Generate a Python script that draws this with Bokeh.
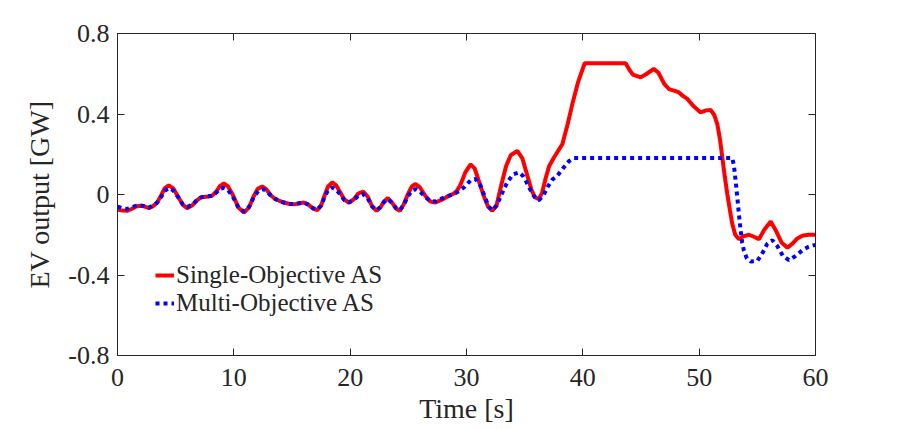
from bokeh.plotting import figure
from bokeh.models import Range1d, LinearAxis, FixedTicker, Legend, LegendItem
from bokeh.embed import file_html
from bokeh.resources import INLINE

# ---- data ----
t_single = [0.0, 0.4, 0.83, 1.2, 1.6, 1.98, 2.35, 2.7, 3.05, 3.41, 3.75, 4.05, 4.41, 4.8, 5.2, 5.6, 5.99,
            6.4, 6.8, 7.1, 7.42, 7.8, 8.14, 8.5, 8.8, 9.14, 9.5, 9.9, 10.4, 10.86, 11.3, 11.7, 12.05,
            12.44, 12.8, 13.2, 13.55, 13.87, 14.3, 14.8, 15.3, 15.65, 16.02, 16.4, 16.8, 17.17, 17.5,
            17.8, 18.1, 18.46, 18.8, 19.15, 19.5, 19.89, 20.3, 20.7, 21.12, 21.5, 21.9, 22.27, 22.6,
            22.9, 23.24, 23.6, 23.95, 24.27, 24.6, 24.95, 25.3, 25.62, 26.0, 26.5, 26.9, 27.34, 27.8,
            28.3, 28.92, 29.2, 29.49, 29.9, 30.35, 30.7, 31.1, 31.5, 31.85, 32.22, 32.6, 33.0, 33.4,
            33.8, 34.37, 34.8, 35.2, 35.6, 35.9, 36.23, 36.5, 36.8, 37.1, 37.52, 38.24, 38.7, 39.1,
            39.6, 40.16, 43.68, 44.0, 44.3, 44.97, 45.5, 46.1, 46.5, 47.0, 47.4, 47.9, 48.26, 48.6,
            48.98, 49.5, 50.13, 50.6, 50.99, 51.3, 51.56, 51.8, 51.99, 52.2, 52.42, 52.65, 52.85,
            53.1, 53.42, 53.8, 54.28, 54.7, 55.14, 55.6, 56.15, 56.6, 57.1, 57.58, 58.0, 58.4,
            58.87, 59.4, 60.0]
y_single = [-0.075, -0.080, -0.081, -0.072, -0.060, -0.056, -0.060, -0.068, -0.058, -0.040, -0.005,
            0.030, 0.045, 0.030, -0.010, -0.050, -0.068, -0.055, -0.030, -0.017, -0.012, -0.010,
            -0.006, 0.015, 0.042, 0.055, 0.040, 0.000, -0.065, -0.090, -0.065, -0.010, 0.028, 0.040,
            0.025, -0.005, -0.022, -0.030, -0.040, -0.047, -0.048, -0.043, -0.040, -0.050, -0.070,
            -0.078, -0.055, -0.005, 0.040, 0.060, 0.045, 0.010, -0.025, -0.040, -0.025, 0.005, 0.015,
            -0.010, -0.060, -0.081, -0.065, -0.035, -0.018, -0.040, -0.070, -0.081, -0.050, 0.000,
            0.040, 0.052, 0.035, -0.010, -0.035, -0.040, -0.028, -0.012, 0.005, 0.020, 0.050, 0.110,
            0.150, 0.130, 0.060, -0.010, -0.060, -0.081, -0.050, 0.050, 0.140, 0.195, 0.217, 0.180,
            0.100, 0.020, -0.015, -0.023, 0.010, 0.080, 0.140, 0.184, 0.250, 0.350, 0.450, 0.560,
            0.652, 0.652, 0.620, 0.596, 0.582, 0.600, 0.624, 0.605, 0.550, 0.524, 0.515, 0.507,
            0.490, 0.475, 0.440, 0.408, 0.418, 0.420, 0.395, 0.350, 0.270, 0.184, 0.090, 0.002,
            -0.080, -0.147, -0.200, -0.222, -0.208, -0.200, -0.210, -0.222, -0.175, -0.134, -0.180,
            -0.240, -0.264, -0.245, -0.220, -0.205, -0.200, -0.200]

t_multi = [0.0, 0.4, 0.83, 1.2, 1.6, 1.98, 2.35, 2.7, 3.05, 3.41, 3.75, 4.05, 4.41, 4.8, 5.2, 5.6, 6.0,
           6.4, 6.8, 7.1, 7.42, 7.8, 8.14, 8.5, 8.8, 9.1, 9.5, 9.9, 10.4, 10.86, 11.3, 11.7, 12.1,
           12.5, 12.8, 13.2, 13.55, 13.87, 14.3, 14.8, 15.3, 15.65, 16.02, 16.4, 16.8, 17.17, 17.5,
           17.8, 18.1, 18.46, 18.8, 19.15, 19.5, 19.89, 20.3, 20.7, 21.12, 21.5, 21.9, 22.27, 22.6,
           22.9, 23.24, 23.6, 23.95, 24.27, 24.6, 24.95, 25.3, 25.62, 26.0, 26.5, 26.9, 27.34, 27.8,
           28.3, 28.92, 29.3, 29.78, 30.35, 30.78, 31.2, 31.6, 31.9, 32.22, 32.6, 33.0, 33.5, 34.0,
           34.51, 34.9, 35.3, 35.7, 36.0, 36.23, 36.6, 37.0, 37.4, 37.8, 38.3, 38.8, 39.23, 52.85,
           52.99, 53.15, 53.28, 53.42, 53.57, 53.7, 53.85, 54.1, 54.43, 55.0, 55.4, 55.85, 56.29,
           56.7, 57.2, 57.72, 58.3, 58.87, 59.4, 60.0]
y_multi = [-0.060, -0.068, -0.072, -0.064, -0.056, -0.054, -0.058, -0.065, -0.055, -0.040, -0.012,
           0.018, 0.032, 0.020, -0.012, -0.048, -0.061, -0.052, -0.030, -0.016, -0.010, -0.009,
           -0.006, 0.010, 0.028, 0.033, 0.022, -0.010, -0.065, -0.085, -0.062, -0.015, 0.018, 0.027,
           0.018, -0.007, -0.022, -0.030, -0.040, -0.046, -0.048, -0.043, -0.040, -0.050, -0.068,
           -0.075, -0.055, -0.012, 0.022, 0.035, 0.025, 0.000, -0.028, -0.040, -0.028, -0.006, 0.002,
           -0.018, -0.060, -0.078, -0.062, -0.038, -0.023, -0.042, -0.068, -0.078, -0.052, -0.010,
           0.018, 0.027, 0.015, -0.015, -0.032, -0.035, -0.022, -0.010, 0.002, 0.015, 0.035, 0.070,
           0.077, 0.045, -0.015, -0.060, -0.078, -0.055, 0.000, 0.060, 0.100, 0.110, 0.090, 0.045,
           0.000, -0.022, -0.028, -0.005, 0.040, 0.075, 0.093, 0.130, 0.165, 0.181, 0.181, 0.143,
           0.060, -0.015, -0.100, -0.181, -0.240, -0.280, -0.318, -0.333, -0.330, -0.295, -0.245,
           -0.227, -0.255, -0.305, -0.326, -0.305, -0.277, -0.260, -0.250]

x_ticks = [0, 10, 20, 30, 40, 50, 60]
y_ticks = [-0.8, -0.4, 0.0, 0.4, 0.8]
y_tick_labels = ["-0.8", "-0.4", "0", "0.4", "0.8"]
series_names = ["Single-Objective AS", "Multi-Objective AS"]

FONT = "Liberation Serif"
AXC = "#262626"

p = figure(width=900, height=429, output_backend="svg", toolbar_location=None,
           x_range=Range1d(0, 60), y_range=Range1d(-0.8, 0.8))
p.min_border_left = 117
p.min_border_right = 85
p.min_border_top = 33
p.min_border_bottom = 74
p.outline_line_color = None
p.grid.visible = False
p.background_fill_color = "white"
p.border_fill_color = "white"

r1 = p.line(t_single, y_single, line_color="#ff0000", line_width=4)
r2 = p.line(t_multi, y_multi, line_color="#0000ff", line_width=4, line_dash="4 4")

def style(ax, ticks, show_labels):
    ax.ticker = FixedTicker(ticks=ticks)
    ax.minor_tick_line_color = None
    ax.major_tick_in = 7
    ax.major_tick_out = 0
    ax.axis_line_color = AXC
    ax.major_tick_line_color = AXC
    ax.axis_line_width = 1
    ax.axis_label_text_font = FONT
    ax.axis_label_text_color = AXC
    ax.axis_label_text_font_style = "normal"
    ax.major_label_text_font = FONT
    if show_labels:
        ax.major_label_text_color = AXC
        ax.major_label_text_font_size = "26px"
        ax.axis_label_text_font_size = "28px"
    else:
        ax.major_label_text_color = None
        ax.major_label_text_font_size = "1px"
        ax.major_label_standoff = 0

xa = p.xaxis[0]
ya = p.yaxis[0]
style(xa, x_ticks, True)
style(ya, y_ticks, True)
xa.axis_label = "Time [s]"
ya.axis_label = "EV output [GW]"
ya.major_label_overrides = {v: s for v, s in zip(y_ticks, y_tick_labels)}
xa.major_label_standoff = 13
ya.major_label_standoff = 8
xa.axis_label_standoff = 4
ya.axis_label_standoff = 10

top = LinearAxis()
right = LinearAxis()
style(top, x_ticks, False)
style(right, y_ticks, False)
p.add_layout(top, "above")
p.add_layout(right, "right")

legend = Legend(items=[LegendItem(label=series_names[0], renderers=[r1]),
                       LegendItem(label=series_names[1], renderers=[r2])],
                location=(38, 38))
legend.border_line_color = None
legend.background_fill_alpha = 0
legend.padding = 0
legend.margin = 0
legend.spacing = 0
legend.glyph_width = 19
legend.glyph_height = 28
legend.label_height = 28
legend.label_standoff = 2
legend.label_text_font = FONT
legend.label_text_font_size = "25px"
legend.label_text_color = AXC
p.add_layout(legend, "center")

open("out.html", "w").write(file_html(p, INLINE))
